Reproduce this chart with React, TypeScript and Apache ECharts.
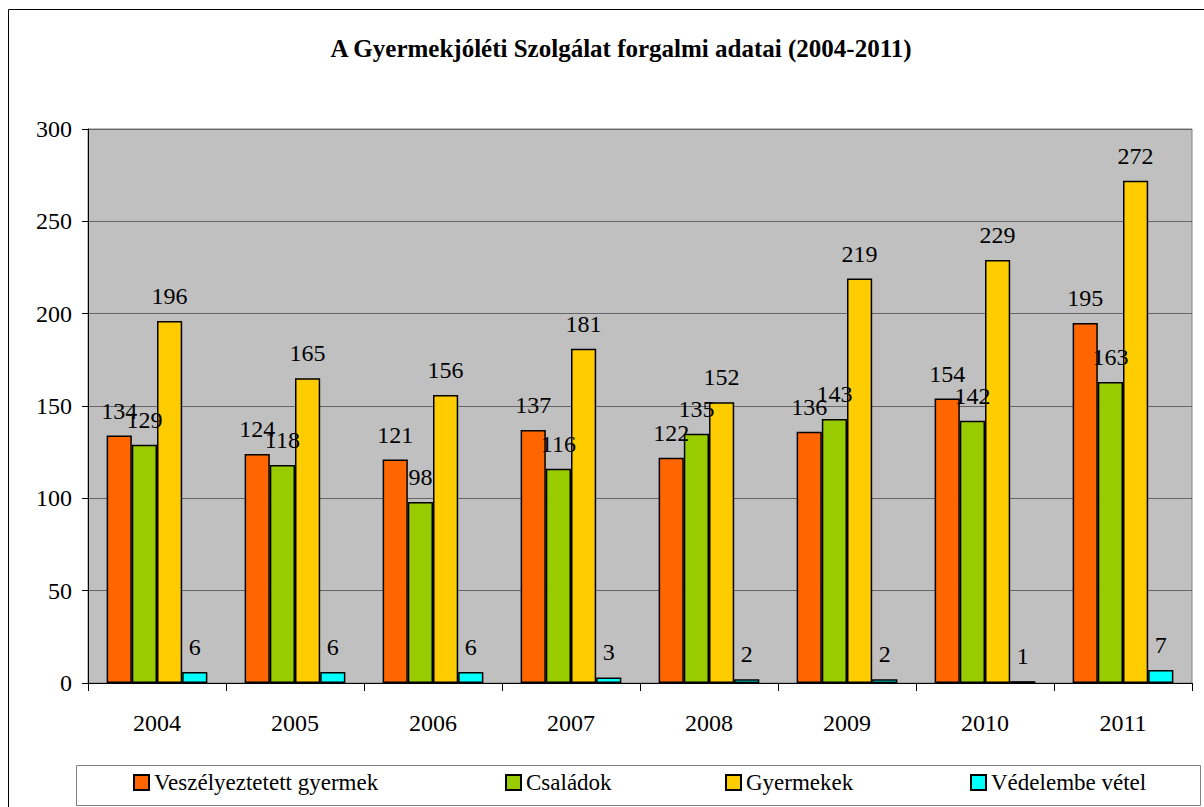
import React, { useEffect, useRef } from "react";
import * as echarts from "echarts";

const years = ["2004", "2005", "2006", "2007", "2008", "2009", "2010", "2011"];
const veszelyeztetett = [134, 124, 121, 137, 122, 136, 154, 195];
const csaladok = [129, 118, 98, 116, 135, 143, 142, 163];
const gyermekek = [196, 165, 156, 181, 152, 219, 229, 272];
const vedelembe = [6, 6, 6, 3, 2, 2, 1, 7];
const seriesNames = ["Veszélyeztetett gyermek", "Családok", "Gyermekek", "Védelembe vétel"];
const colors = ["#FF6600", "#99CC00", "#FFCC00", "#00FFFF"];
const titleText = "A Gyermekjóléti Szolgálat forgalmi adatai (2004-2011)";

const FONT = "Liberation Serif";

export default function App() {
  const ref = useRef<HTMLDivElement>(null);
  useEffect(() => {
    document.body.style.margin = "0";
    const chart = echarts.init(ref.current!, null, { renderer: "svg" });
    const data = [veszelyeztetett, csaladok, gyermekek, vedelembe];
    const legendX = [133, 505, 725, 970];
    chart.setOption({
      animation: false,
      textStyle: { fontFamily: FONT },
      grid: {
        left: 88,
        top: 129,
        width: 1104,
        height: 554,
        show: true,
        backgroundColor: "#C0C0C0",
        borderColor: "#808080",
        borderWidth: 1,
      },
      graphic: [
        {
          type: "rect",
          shape: { x: 8.5, y: 9.5, width: 1200, height: 805 },
          style: { fill: "none", stroke: "#000", lineWidth: 1 },
          z: -1,
        },
        {
          type: "rect",
          shape: { x: 76.5, y: 765.5, width: 1124, height: 40 },
          style: { fill: "#fff", stroke: "#808080", lineWidth: 1 },
          z: 0,
        },
        {
          type: "text",
          x: 621,
          y: 48,
          style: {
            text: titleText,
            fontFamily: FONT,
            fontWeight: "bold",
            fontSize: 25,
            fill: "#000",
            textAlign: "center",
            textVerticalAlign: "middle",
          },
        },
      ],
      legend: seriesNames.map((n, i) => ({
        data: [n],
        left: legendX[i],
        top: 771,
        padding: 0,
        itemWidth: 15,
        itemHeight: 15,
        itemGap: 8,
        icon: "rect",
        textStyle: { fontFamily: FONT, fontSize: 23, color: "#000" },
        z: 5,
      })),
      xAxis: {
        type: "category",
        data: years,
        axisLine: { lineStyle: { color: "#000", width: 1 } },
        axisTick: { show: true, length: 8, lineStyle: { color: "#000" } },
        axisLabel: { fontFamily: FONT, fontSize: 24, color: "#000", margin: 28 },
      },
      yAxis: {
        type: "value",
        min: 0,
        max: 300,
        interval: 50,
        axisLine: { show: true, lineStyle: { color: "#000", width: 1 } },
        axisTick: { show: true, length: 6, lineStyle: { color: "#000" } },
        axisLabel: { fontFamily: FONT, fontSize: 24, color: "#000", margin: 16 },
        splitLine: { lineStyle: { color: "#666", width: 1 } },
      },
      series: seriesNames.map((n, i) => ({
        name: n,
        type: "bar",
        data: data[i],
        barGap: "0%",
        barCategoryGap: "27%",
        itemStyle: { color: colors[i], borderColor: "#000", borderWidth: 1.5 },
        label: {
          show: true,
          position: "top",
          distance: 13,
          fontFamily: FONT,
          fontSize: 24,
          color: "#000",
        },
      })),
    });
    return () => chart.dispose();
  }, []);
  return <div ref={ref} style={{ width: 1204, height: 807 }} />;
}
